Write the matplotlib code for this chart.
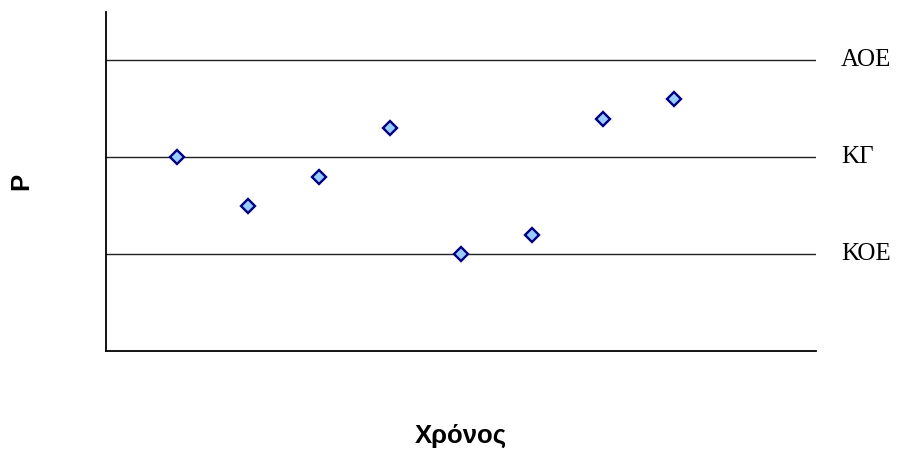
import matplotlib
matplotlib.use("Agg")
import matplotlib.pyplot as plt

x_vals = [1, 2, 3, 4, 5, 6, 7, 8]
y_vals = [2.0, 1.5, 1.8, 2.3, 1.0, 1.2, 2.4, 2.6]
ref_levels = [3.0, 2.0, 1.0]
ref_labels = ["ΑΟΕ", "ΚΓ", "ΚΟΕ"]
x_label = "Χρόνος"
y_label = "Ρ"

fig = plt.figure(figsize=(8.98, 4.49), dpi=100)
ax = fig.add_axes([0.118, 0.2183, 0.7907, 0.755])
ax.set_xlim(0, 10)
ax.set_ylim(0, 3.5)

for lvl, lab in zip(ref_levels, ref_labels):
    ax.axhline(lvl, color="#222222", linewidth=1.0, zorder=1)
    ax.text(1.035, lvl, lab, transform=ax.get_yaxis_transform(), va="center", ha="left",
            fontsize=18, family=["Liberation Serif", "DejaVu Serif"], color="black")

ax.plot(x_vals, y_vals, linestyle="none", marker="D", markersize=7,
        markerfacecolor="#99CCFF", markeredgecolor="#000080", markeredgewidth=1.7, zorder=3,
        clip_on=False)

for s in ["top", "right"]:
    ax.spines[s].set_visible(False)
for s in ["left", "bottom"]:
    ax.spines[s].set_linewidth(1.3)
    ax.spines[s].set_color("black")
ax.set_xticks([])
ax.set_yticks([])

fig.text(0.513, 0.028, x_label, ha="center", va="center", fontsize=18.5,
         fontweight="bold", family=["Liberation Sans", "DejaVu Sans"])
fig.text(0.024, 0.595, y_label, ha="center", va="center", rotation=90, fontsize=18.5,
         fontweight="bold", family=["Liberation Sans", "DejaVu Sans"])

fig.savefig("out.png", dpi=100)
